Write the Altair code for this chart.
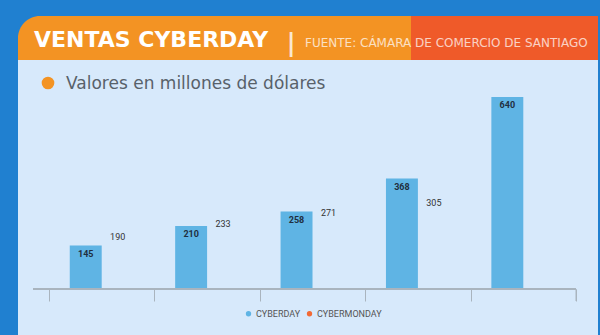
import altair as alt
import pandas as pd

years = ["2016", "2017", "2018", "2019", "2020"]
cyberday = [145, 210, 258, 368, 640]
cybermonday = [190, 233, 271, 305, None]
series = ["CYBERDAY", "CYBERMONDAY"]
series_colors = ["#5fb4e4", "#f26a35"]

rows = []
for i, y in enumerate(years):
    rows.append({"year": y, "serie": "CYBERDAY", "valor": cyberday[i]})
    if cybermonday[i] is not None:
        rows.append({"year": y, "serie": "CYBERMONDAY", "valor": cybermonday[i]})
df = pd.DataFrame(rows)

OX, OY = 49, 97  # plot origin in page pixels
W, H = 527, 192

def px(v):
    return alt.value(v - OX)

def py(v):
    return alt.value(v - OY)

one = pd.DataFrame({"k": [0]})

panel = alt.Chart(one).mark_rect(color="#d7e9fb", cornerRadiusTopLeft=26).encode(
    x=px(18), x2=px(598), y=py(16), y2=py(340))
bar_orange = alt.Chart(one).mark_rect(color="#f39323", cornerRadiusTopLeft=26).encode(
    x=px(18), x2=px(411), y=py(16), y2=py(60))
bar_red = alt.Chart(one).mark_rect(color="#ef5a29").encode(
    x=px(411), x2=px(598), y=py(16), y2=py(60))
title = alt.Chart(one).mark_text(
    text="VENTAS CYBERDAY", font="DejaVu Sans", fontWeight="bold", fontSize=22,
    color="#ffffff", align="left", baseline="alphabetic").encode(x=px(34), y=py(47))
sep = alt.Chart(one).mark_text(
    text="|", font="DejaVu Sans", fontWeight="bold", fontSize=24, color="#fbe7cf",
    align="center", baseline="alphabetic").encode(x=px(291), y=py(51))
source = alt.Chart(one).mark_text(
    text="FUENTE: CÁMARA DE COMERCIO DE SANTIAGO", font="DejaVu Sans", fontSize=12,
    color="#ffffff", opacity=0.72, align="left", baseline="alphabetic").encode(x=px(305), y=py(47))
dot = alt.Chart(one).mark_circle(color="#f39323", opacity=1, size=160).encode(
    x=px(48), y=py(83))
sub = alt.Chart(one).mark_text(
    text="Valores en millones de dólares", font="DejaVu Sans", fontSize=17,
    color="#58616a", align="left", baseline="alphabetic").encode(x=px(66), y=py(89))
baseline = alt.Chart(one).mark_rule(color="#a9b4be", strokeWidth=2).encode(
    x=px(33), x2=px(576), y=py(289))
end_tick = alt.Chart(one).mark_rule(color="#a9b4be", strokeWidth=1).encode(
    x=alt.value(W), y=alt.value(H), y2=alt.value(H + 12))

xenc = alt.X("year:N", sort=years, title=None,
             scale=alt.Scale(paddingInner=0, paddingOuter=0),
             axis=alt.Axis(labels=False, domain=False, ticks=True, tickBand="extent",
                           tickSize=12, tickColor="#a9b4be", tickWidth=1, zindex=1))
xoff = alt.XOffset("serie:N", sort=series,
                   scale=alt.Scale(domain=series, paddingInner=0, paddingOuter=0.65))
yenc = alt.Y("valor:Q", title=None, scale=alt.Scale(domain=[0, 640], nice=False),
             axis=None)

base = alt.Chart(df)
bars = base.transform_filter(alt.datum.serie == "CYBERDAY").mark_bar().encode(
    x=xenc, xOffset=xoff, y=yenc,
    color=alt.Color("serie:N", scale=alt.Scale(domain=series, range=series_colors),
                    legend=alt.Legend(title=None, orient="none", direction="horizontal",
                                      legendX=195, legendY=212, symbolType="circle",
                                      symbolSize=28, labelFont="Liberation Sans Narrow, Roboto",
                                      labelFontSize=9, labelColor="#555555",
                                      labelOffset=3, columnPadding=4, symbolStrokeWidth=0)))
lab_day = base.transform_filter(alt.datum.serie == "CYBERDAY").mark_text(
    font="Liberation Sans Narrow, Roboto", fontWeight="bold", fontSize=9,
    color="#1f2f3f", baseline="middle", dy=8).encode(
    x=xenc, xOffset=xoff, y=yenc, text="valor:Q")
lab_mon = base.transform_filter(alt.datum.serie == "CYBERMONDAY").mark_text(
    font="Liberation Sans Narrow, Roboto", fontSize=9,
    color="#333333", baseline="middle", dy=5).encode(
    x=xenc, xOffset=xoff, y=yenc, text="valor:Q")

chart = alt.layer(
    panel, bar_orange, bar_red, title, sep, source, dot, sub,
    bars, baseline, end_tick, lab_day, lab_mon
).properties(
    width=W, height=H,
    autosize=alt.AutoSizeParams(type="none"),
    padding={"left": OX, "top": OY, "right": 600 - OX - W, "bottom": 335 - OY - H},
    background="#2080d0",
).configure_view(stroke=None)

chart.save("out.html", embed_options={"renderer": "svg", "actions": False})
